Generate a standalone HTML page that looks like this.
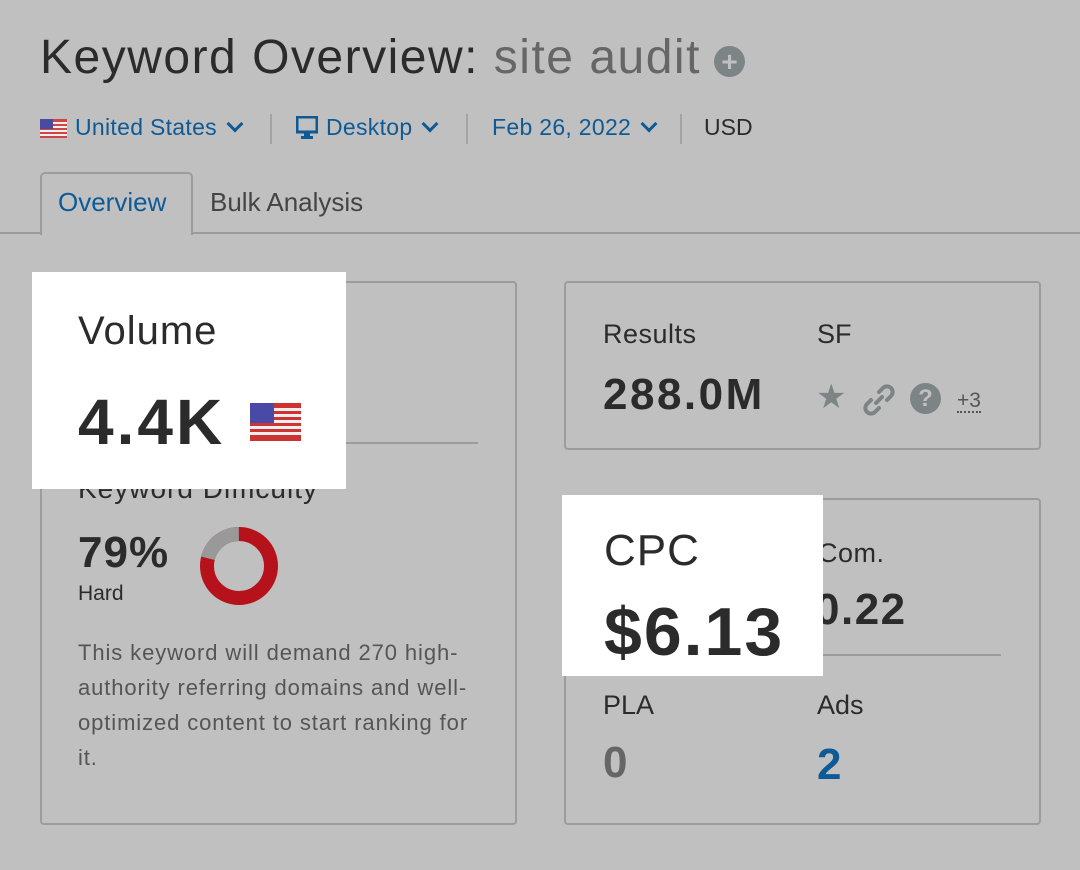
<!DOCTYPE html>
<html><head><meta charset="utf-8"><style>
body{margin:0;width:1080px;height:870px;background:#c0c0c0;position:relative;overflow:hidden;font-family:"Liberation Sans","DejaVu Sans",sans-serif;color:#2b2b2b}
.a{position:absolute;white-space:nowrap;line-height:1}
.card{position:absolute;border:2px solid #9c9c9c;border-radius:4px;box-sizing:border-box}
.wb{position:absolute;background:#fff}
.blue{color:#0e5a96}
.sep{position:absolute;width:2px;height:30px;background:#a3a3a3;top:114px}
.chev{display:inline-block;width:9px;height:9px;border-right:3px solid #0e5a96;border-bottom:3px solid #0e5a96;transform:rotate(45deg);margin-left:12px;position:relative;top:-5px}
</style></head><body>
<div class="a" style="left:40px;top:34px;font-size:48px;letter-spacing:1.5px">Keyword Overview: <span style="color:#666">site audit</span></div>
<div class="a" style="left:714px;top:46px;width:31px;height:31px;border-radius:50%;background:#7c8486;color:#c0c0c0;font-size:28px;font-weight:bold;text-align:center;line-height:31px">+</div>

<svg class="a" style="left:40px;top:119px" width="27" height="19"><rect width="27" height="19" fill="#c44"/><g fill="#eee"><rect y="3" width="27" height="2"/><rect y="7" width="27" height="2"/><rect y="11" width="27" height="2"/><rect y="15" width="27" height="2"/></g><rect width="13" height="10" fill="#4a4aa0"/></svg>
<div class="a blue" style="left:75px;top:116px;font-size:23px;letter-spacing:0.3px">United States<span class="chev"></span></div>
<div class="sep" style="left:270px"></div>
<svg class="a" style="left:296px;top:116px" width="22" height="24"><rect x="1" y="1" width="20" height="15" fill="none" stroke="#0e5a96" stroke-width="3"/><rect x="8" y="16" width="6" height="4" fill="#0e5a96"/><rect x="5" y="20" width="12" height="3" fill="#0e5a96"/></svg>
<div class="a blue" style="left:326px;top:116px;font-size:23px;letter-spacing:0.3px">Desktop<span class="chev"></span></div>
<div class="sep" style="left:466px"></div>
<div class="a blue" style="left:492px;top:116px;font-size:23px;letter-spacing:0.3px">Feb 26, 2022<span class="chev"></span></div>
<div class="sep" style="left:680px"></div>
<div class="a" style="left:704px;top:116px;font-size:23px">USD</div>

<div class="a" style="left:0;top:232px;width:1080px;height:2px;background:#9c9c9c"></div>
<div class="a" style="left:40px;top:172px;width:153px;height:63px;border:2px solid #9c9c9c;border-bottom:none;border-radius:5px 5px 0 0;background:#c0c0c0;box-sizing:border-box"></div>
<div class="a blue" style="left:58px;top:189px;font-size:26px">Overview</div>
<div class="a" style="left:210px;top:189px;font-size:26px;color:#444">Bulk Analysis</div>

<!-- left card -->
<div class="card" style="left:40px;top:281px;width:477px;height:544px"></div>
<div class="a" style="left:346px;top:442px;width:132px;height:2px;background:#9c9c9c"></div>
<div class="a" style="left:78px;top:475px;font-size:28px;letter-spacing:1px">Keyword Difficulty</div>
<div class="a" style="left:78px;top:531px;font-size:44px;font-weight:bold;letter-spacing:1px">79%</div>
<div class="a" style="left:78px;top:583px;font-size:21px">Hard</div>
<svg class="a" style="left:199px;top:526px" width="80" height="80"><circle cx="40" cy="40" r="32" fill="none" stroke="#b5121b" stroke-width="14"/><circle cx="40" cy="40" r="32" fill="none" stroke="#999" stroke-width="14" stroke-dasharray="42.2 201" transform="rotate(-166 40 40)"/></svg>
<div class="a" style="left:78px;top:635px;font-size:22px;color:#555;line-height:35px;letter-spacing:0.9px">This keyword will demand 270 high-<br>authority referring domains and well-<br>optimized content to start ranking for<br>it.</div>
<div class="wb" style="left:32px;top:272px;width:314px;height:217px"></div>
<div class="a" style="left:78px;top:311px;font-size:40px;letter-spacing:1px">Volume</div>
<div class="a" style="left:78px;top:390px;font-size:64px;font-weight:bold;letter-spacing:3px">4.4K</div>
<svg class="a" style="left:250px;top:403px" width="51" height="38"><rect width="51" height="38" fill="#c33"/><g fill="#eee"><rect y="5" width="51" height="3"/><rect y="11" width="51" height="3"/><rect y="17" width="51" height="3"/><rect y="23" width="51" height="3"/><rect y="29" width="51" height="3"/></g><rect width="24" height="20" fill="#4949a8"/></svg>

<!-- right top card -->
<div class="card" style="left:564px;top:281px;width:477px;height:169px"></div>
<div class="a" style="left:603px;top:321px;font-size:27px;letter-spacing:0.5px">Results</div>
<div class="a" style="left:817px;top:321px;font-size:27px">SF</div>
<div class="a" style="left:603px;top:373px;font-size:44px;font-weight:bold;letter-spacing:2.5px">288.0M</div>
<div class="a" style="left:816px;top:380px;font-size:34px;color:#7c8486">★</div>
<svg class="a" style="left:862px;top:383px" width="34" height="34"><g fill="none" stroke="#7c8486" stroke-width="4" stroke-linecap="round"><path d="M14 20 L20 14"/><path d="M17 9 L21 5 a5 5 0 0 1 8 8 L25 17"/><path d="M17 25 L13 29 a5 5 0 0 1 -8 -8 L9 17"/></g></svg>
<div class="a" style="left:910px;top:383px;width:31px;height:31px;border-radius:50%;background:#7c8486;color:#c0c0c0;font-size:24px;font-weight:bold;text-align:center;line-height:31px">?</div>
<div class="a" style="left:957px;top:390px;font-size:21px;color:#555;border-bottom:2px dotted #555">+3</div>

<!-- right bottom card -->
<div class="card" style="left:564px;top:498px;width:477px;height:327px"></div>
<div class="a" style="left:823px;top:654px;width:178px;height:2px;background:#9c9c9c"></div>
<div class="a" style="left:818px;top:540px;font-size:27px;letter-spacing:0.5px">Com.</div>
<div class="a" style="left:815px;top:588px;font-size:44px;font-weight:bold;letter-spacing:1.5px">0.22</div>
<div class="a" style="left:603px;top:692px;font-size:27px">PLA</div>
<div class="a" style="left:817px;top:692px;font-size:27px">Ads</div>
<div class="a" style="left:603px;top:741px;font-size:44px;font-weight:bold;color:#666">0</div>
<div class="a blue" style="left:817px;top:743px;font-size:44px;font-weight:bold">2</div>
<div class="wb" style="left:562px;top:495px;width:261px;height:181px"></div>
<div class="a" style="left:604px;top:529px;font-size:44px;letter-spacing:1px">CPC</div>
<div class="a" style="left:604px;top:598px;font-size:68px;font-weight:bold;letter-spacing:2px">$6.13</div>
</body></html>
